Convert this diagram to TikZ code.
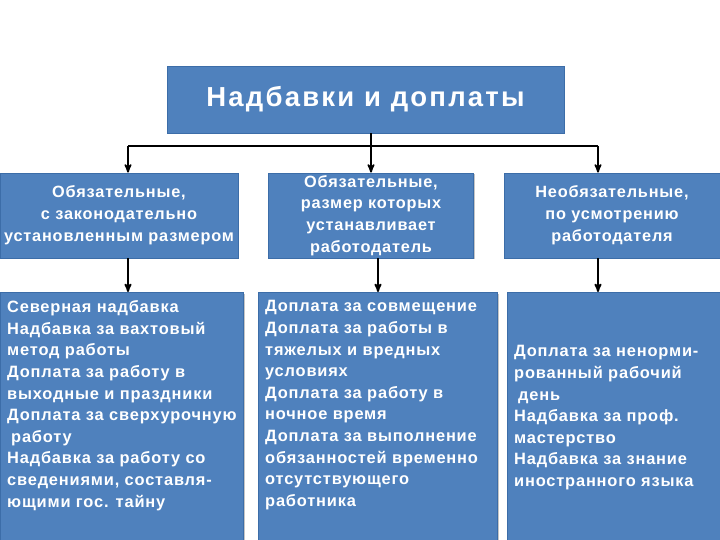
\documentclass[tikz,border=0pt]{standalone}
\usepackage{fontspec}
\setmainfont{Liberation Sans}
\newfontfamily\spacedfont[LetterSpace=5]{Liberation Sans}
\newfontfamily\titlefont[LetterSpace=8]{Liberation Sans}
\usepackage{tikz}
\usetikzlibrary{arrows,shapes,shadows}
\definecolor{boxblue}{HTML}{4F81BD}
\definecolor{boxedge}{HTML}{3C6DA8}
\tikzstyle{box} = [rectangle, fill=boxblue, draw=boxedge, line width=0.8pt,%
	drop shadow={shadow xshift=1.2pt, shadow yshift=-1.2pt, fill=black!45},%
	text=white, inner sep=0pt]
\tikzstyle{link} = [line width=1.8pt, black]

\begin{document}
\begin{tikzpicture}[x=1pt,y=-1pt,>=stealth']
    \tikzstyle{kind}=[box, minimum height=85pt, align=center,%
      font=\spacedfont\bfseries\fontsize{16.3}{21.8}\selectfont]
    \tikzstyle{list}=[box, minimum height=250pt, anchor=north west]
    \tikzstyle{item}=[text=white, anchor=north west, align=left, inner sep=0pt,%
      font=\spacedfont\bfseries\fontsize{16.4}{21.6}\selectfont]
    \useasboundingbox (0,0) rectangle (720,540);

    \node[box, minimum width=397pt, minimum height=67pt,%
      font=\titlefont\bfseries\fontsize{27.5}{30}\selectfont] (top) at (365.5,99.5) {Надбавки и доплаты};

    \node[kind, minimum width=238pt] (ob1) at (119,215.5)
      {Обязательные,\\с законодательно\\установленным размером};
    \node[kind, minimum width=205pt] (ob2) at (371,215.5)
      {Обязательные,\\размер которых\\устанавливает\\работодатель};
    \node[kind, minimum width=216pt] (opt) at (612,215.5)
      {Необязательные,\\по усмотрению\\работодателя};

    \node[list, minimum width=243pt] (list1) at (0,292) {};
    \node[list, minimum width=239pt] (list2) at (258,292) {};
    \node[list, minimum width=215pt] (list3) at (507,292) {};

    \node[item] (t1) at (7,300.5)
      {Северная надбавка\\Надбавка за вахтовый\\метод работы\\Доплата за работу в\\%
       выходные и праздники\\Доплата за сверхурочную\\\hspace*{4pt}работу\\%
       Надбавка за работу со\\сведениями, составля-\\ющими гос. тайну};
    \node[item] (t2) at (265,300.5)
      {Доплата за совмещение\\Доплата за работы в\\тяжелых и вредных\\условиях\\%
       Доплата за работу в\\ночное время\\Доплата за выполнение\\%
       обязанностей временно\\отсутствующего\\работника};
    \node[item] (t3) at (514,345.5)
      {Доплата за ненорми-\\рованный рабочий\\\hspace*{4pt}день\\Надбавка за проф.\\%
       мастерство\\Надбавка за знание\\иностранного языка};

    \coordinate (jl) at (128,146);
    \coordinate (jr) at (598,146);
    \draw[link] (jl) -- (jr);
    \draw[link,->] (top.south -| ob2.north) -- (ob2.north);
    \draw[link,->] (jl) -- (jl |- ob1.north);
    \draw[link,->] (jr) -- (jr |- opt.north);
    \draw[link,->] (jl |- ob1.south) -- (jl |- list1.north);
    \draw[link,->] ([xshift=7pt]ob2.south) -- ([xshift=7pt]ob2.south |- list2.north);
    \draw[link,->] (jr |- opt.south) -- (jr |- list3.north);
\end{tikzpicture}
\end{document}
